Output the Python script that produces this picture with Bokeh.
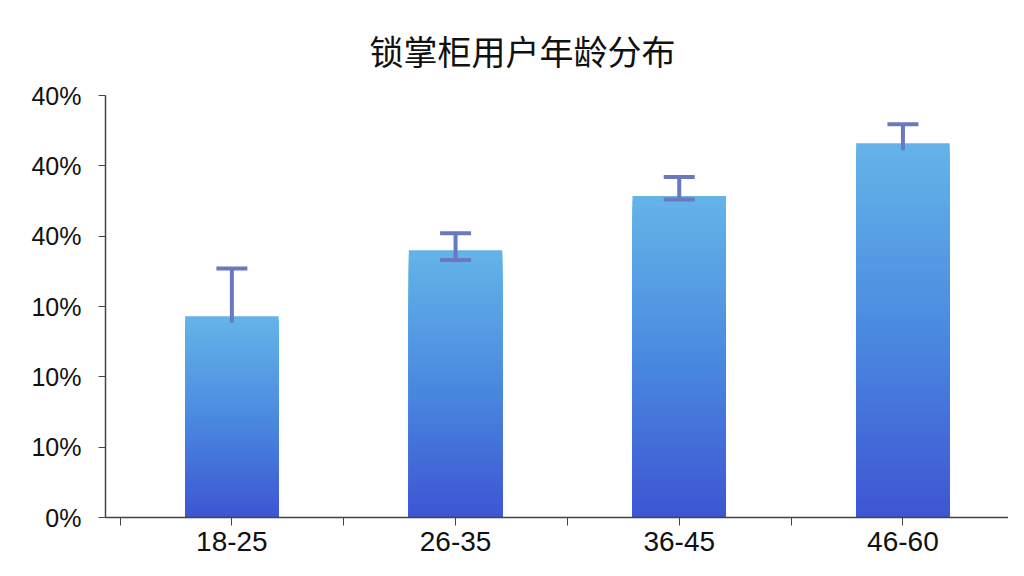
from bokeh.plotting import figure
from bokeh.models import Range1d, FixedTicker, Title, ColumnDataSource
from bokeh.embed import file_html
from bokeh.resources import INLINE

# data
title = "锁掌柜用户年龄分布"
ages = ["18-25", "26-35", "36-45", "46-60"]
share = [28.6, 38.0, 45.7, 53.2]
err_hi = [35.4, 40.4, 48.4, 55.9]
err_lo = [27.7, 36.6, 45.2, 52.2]
lo_cap = [False, True, True, False]
y_ticks = [0, 10, 20, 30, 40, 50, 60]
y_labels = ["0%", "10%", "10%", "10%", "40%", "40%", "40%"]

pos = [i + 0.5 for i in range(len(ages))]

p = figure(width=1008, height=560, output_backend="svg", toolbar_location=None,
           x_range=Range1d(-0.065, 3.972), y_range=Range1d(0, 60),
           min_border_left=105, min_border_right=0, min_border_top=95, min_border_bottom=43)
p.title = Title(text=title, align="left", offset=264, text_font="Noto Sans CJK SC",
                text_font_size="34px", text_font_style="normal", text_color="#111111",
                text_line_height=0.9, standoff=42)
p.outline_line_color = None
p.xgrid.visible = False
p.ygrid.visible = False

# gradient bars: slices drawn from the tallest (top colour) down, each starting at 0
def mix(c1, c2, t):
    return "#%02x%02x%02x" % tuple(int(round(a + (b - a) * t)) for a, b in zip(c1, c2))

top_c = (0x64, 0xb4, 0xe8)
mid_c = (0x4a, 0x8a, 0xe0)
bot_c = (0x3e, 0x55, 0xd3)
n = 60
xs, tops, cols = [], [], []
for x, v in zip(pos, share):
    for k in range(n - 1, -1, -1):
        t = (k + 0.5) / n
        c = mix(bot_c, mid_c, t / 0.5) if t < 0.5 else mix(mid_c, top_c, (t - 0.5) / 0.5)
        xs.append(x)
        tops.append(v * (k + 1) / n)
        cols.append(c)
src = ColumnDataSource(dict(x=xs, top=tops, color=cols))
p.vbar(x="x", bottom=0, top="top", width=0.418, fill_color="color",
       line_color=None, source=src)

# error bars
ecol = "#6a78bd"
p.segment(x0=pos, y0=err_lo, x1=pos, y1=err_hi, line_color=ecol, line_width=4)
p.scatter(x=pos, y=err_hi, marker="dash", size=31, line_color=ecol, line_width=4)
lx = [x for x, c in zip(pos, lo_cap) if c]
ly = [y for y, c in zip(err_lo, lo_cap) if c]
p.scatter(x=lx, y=ly, marker="dash", size=31, line_color=ecol, line_width=4)

# axes
p.yaxis.ticker = FixedTicker(ticks=y_ticks)
p.yaxis.major_label_overrides = {t: l for t, l in zip(y_ticks, y_labels)}
p.yaxis.minor_tick_line_color = None
p.yaxis.major_tick_in = 0
p.yaxis.major_tick_out = 7
p.yaxis.major_label_standoff = 17
p.yaxis.major_label_text_font = "Liberation Sans"
p.yaxis.major_label_text_font_size = "25px"
p.yaxis.major_label_text_color = "#111111"
p.yaxis.axis_line_color = "#444444"
p.yaxis.axis_line_width = 1.5
p.yaxis.major_tick_line_color = "#444444"

p.xaxis.ticker = FixedTicker(ticks=pos, minor_ticks=[0, 1, 2, 3, 4])
p.xaxis.major_label_overrides = {x: a for x, a in zip(pos, ages)}
p.xaxis.major_tick_in = 0
p.xaxis.major_tick_out = 8
p.xaxis.minor_tick_in = 0
p.xaxis.minor_tick_out = 8
p.xaxis.major_label_standoff = 6
p.xaxis.major_label_text_font = "Liberation Sans"
p.xaxis.major_label_text_font_size = "28px"
p.xaxis.major_label_text_color = "#111111"
p.xaxis.axis_line_color = "#444444"
p.xaxis.axis_line_width = 1.5
p.xaxis.major_tick_line_color = "#444444"
p.xaxis.minor_tick_line_color = "#444444"

open("out.html", "w").write(file_html(p, INLINE))
